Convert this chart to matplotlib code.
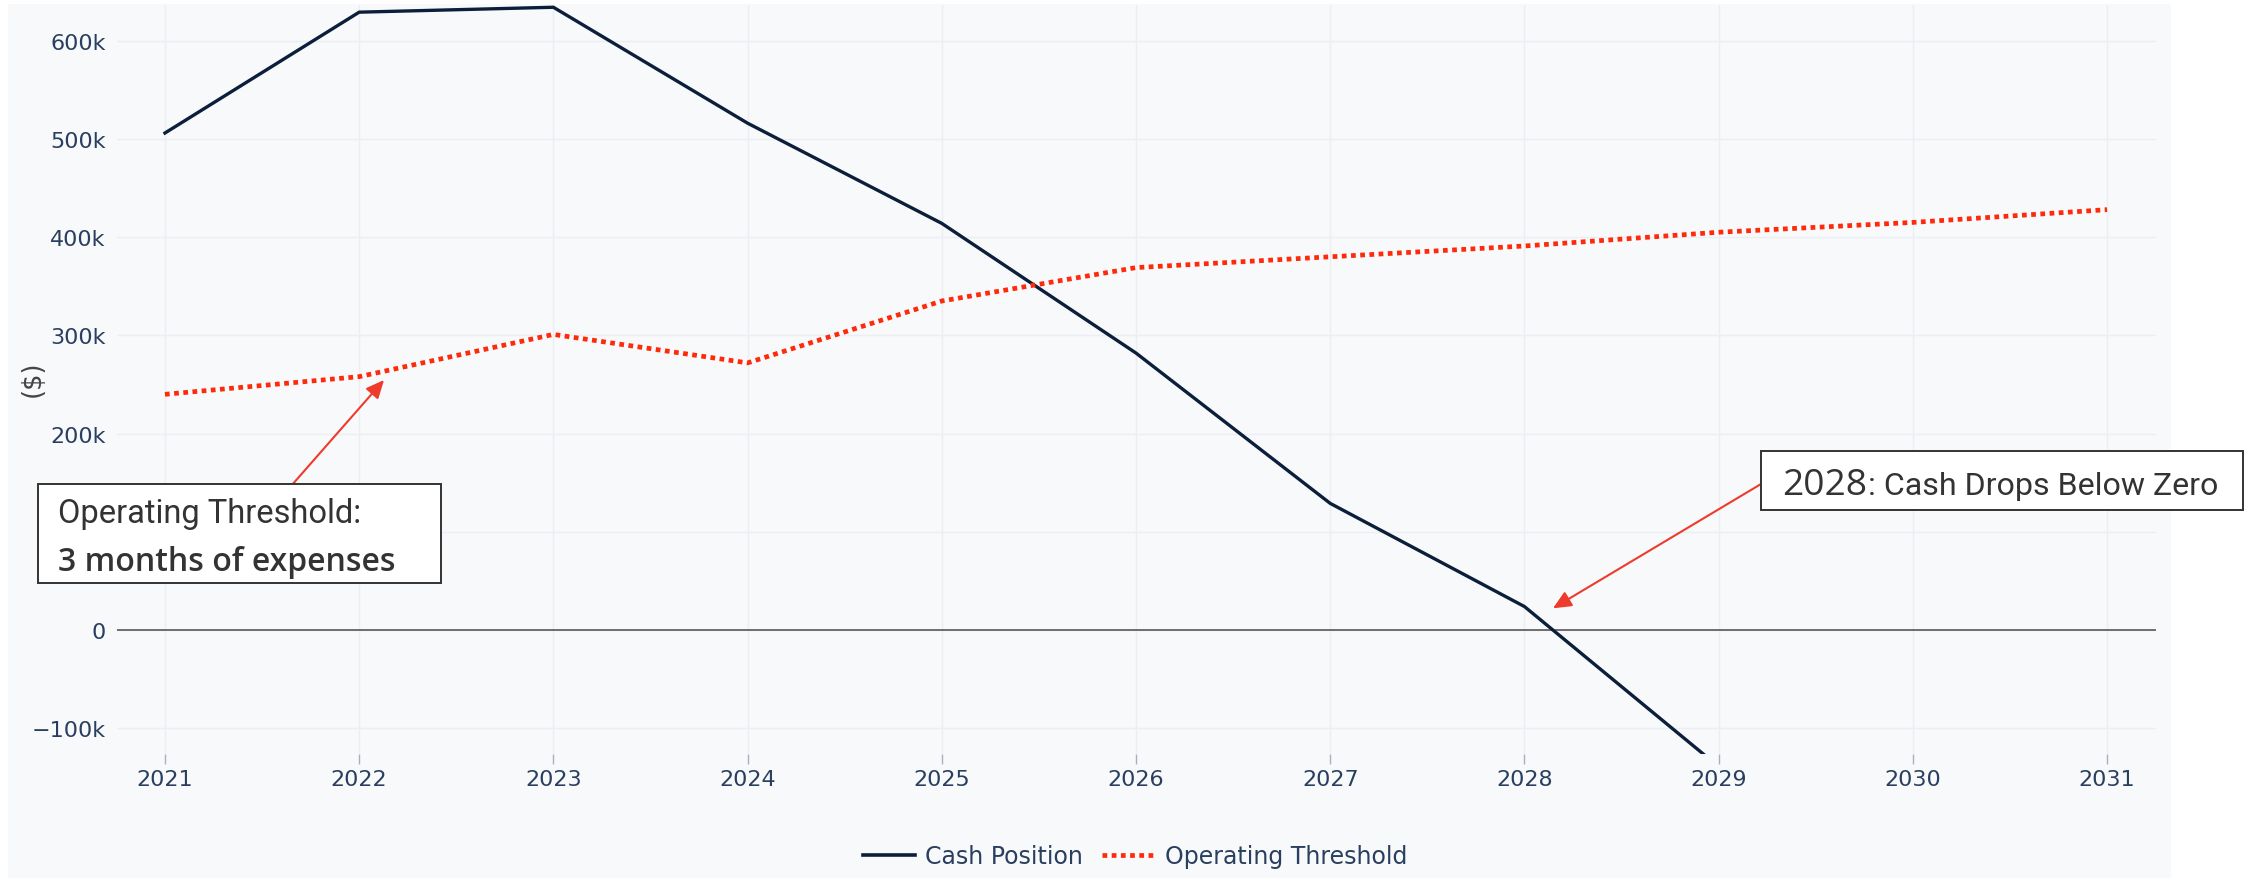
"""
Cash position vs operating threshold, 2021-2031, with two callout boxes.

Output: out.png (2251 x 879 px)
"""

import matplotlib

matplotlib.use("Agg")
import matplotlib.pyplot as plt
from matplotlib.lines import Line2D
from matplotlib.patches import Rectangle
from matplotlib.ticker import FuncFormatter

W, H = 2251, 879

years = [2021, 2022, 2023, 2024, 2025, 2026, 2027, 2028, 2029, 2030, 2031]
cash_years = [2021, 2022, 2023, 2024, 2025, 2026, 2027, 2028, 2029]
cash = [506_000, 629_000, 634_000, 516_000, 414_000, 282_000, 129_000, 24_000, -139_000]
threshold = [240_000, 258_000, 301_000, 272_000, 335_000, 369_000, 380_000, 391_000, 405_000, 415_000, 428_000]
y_ticks = [-100_000, 0, 100_000, 200_000, 300_000, 400_000, 500_000, 600_000]

# arrow tips of the two callouts (data coords)
TIP_THRESHOLD = (2022.128, 254_600)
TIP_ZERO = (2028.147, 22_200)

BG = "#f8f9fb"
NAVY = "#0b1f3a"
RED = "#ff2a0a"
ARROW_RED = "#ee3b2c"
TICK_TXT = "#2a3f5f"
BOX_TXT = "#333333"
COND_FONT = ["Roboto", "DejaVu Sans"]
WIDE_FONT = ["Open Sans", "DejaVu Sans"]
DOTS = (0, (1.0, 0.95))


def px(x, y):
    """figure pixel (from top-left) -> figure fraction"""
    return x / W, 1 - y / H


def fit_text(fig, renderer, x, base, s, width, **kw):
    fx, fy = px(x, base)
    t = fig.text(fx, fy, s, ha="left", va="baseline", fontsize=20, zorder=7, **kw)
    w = t.get_window_extent(renderer).width
    t.set_fontsize(20 * width / w)
    return t


def main() -> None:
    fig = plt.figure(figsize=(W / 100, H / 100), dpi=100)
    fig.patch.set_facecolor("white")
    fig.add_artist(
        Rectangle((8 / W, 0), (2171 - 8) / W, (H - 5) / H, transform=fig.transFigure,
                  facecolor=BG, edgecolor="none", zorder=-10)
    )

    ax = fig.add_axes([117 / W, 1 - 755 / H, (2156 - 117) / W, (755 - 6) / H])
    ax.set_facecolor(BG)
    for s in ax.spines.values():
        s.set_visible(False)

    ax.set_xlim(2020.753, 2031.252)
    ax.set_ylim(-126_100, 636_300)
    ax.set_xticks(years)
    ax.set_yticks(y_ticks)
    ax.yaxis.set_major_formatter(
        FuncFormatter(lambda v, _: "0" if v == 0 else f"{v / 1000:.0f}k".replace("-", "\u2212"))
    )
    ax.grid(True, color="#eceef2", lw=1.0, zorder=0)
    ax.set_axisbelow(True)
    ax.tick_params(axis="x", length=7.5, width=1.0, color="#a9b0bd", pad=3,
                   labelsize=16, labelcolor=TICK_TXT)
    ax.tick_params(axis="y", length=0, pad=8, labelsize=16, labelcolor=TICK_TXT)

    ax.axhline(0, color="#4a4a4a", lw=1.1, zorder=1.5)
    ax.plot(cash_years, cash, color=NAVY, lw=2.4, zorder=3, solid_joinstyle="miter")
    ax.plot(years, threshold, color=RED, lw=3.4, linestyle=DOTS, dash_capstyle="butt", zorder=3)

    fx, fy = px(33, 379)
    fig.text(fx, fy, "($)", rotation=90, fontsize=18.5, color="#444444", ha="center", va="center")

    handles = [
        Line2D([], [], color=NAVY, lw=2.6),
        Line2D([], [], color=RED, lw=3.4, linestyle=DOTS, dash_capstyle="butt"),
    ]
    leg = fig.legend(handles, ["Cash Position", "Operating Threshold"], loc="center",
                     bbox_to_anchor=px(1135, 857), ncol=2, frameon=False, fontsize=17,
                     handlelength=2.2, handletextpad=0.45, columnspacing=0.8)
    for t in leg.get_texts():
        t.set_color(TICK_TXT)

    # callout arrows (tails sit on the box edges)
    arrow = dict(arrowstyle="-|>,head_length=0.55,head_width=0.25", color=ARROW_RED,
                 lw=1.5, mutation_scale=20, shrinkA=0, shrinkB=0)
    ax.annotate("", xy=TIP_THRESHOLD, xytext=(292.8, H - 485), textcoords="figure pixels",
                arrowprops=arrow, annotation_clip=False)
    ax.annotate("", xy=TIP_ZERO, xytext=(1761, H - 485), textcoords="figure pixels",
                arrowprops=arrow, annotation_clip=False)

    for x0, y0, x1, y1 in [(38, 485, 441, 584), (1761, 452, 2243, 511)]:
        fig.add_artist(
            Rectangle(px(x0, y1), (x1 - x0) / W, (y1 - y0) / H, transform=fig.transFigure,
                      facecolor="white", edgecolor="#333333", lw=1.4, zorder=6)
        )

    renderer = fig.canvas.get_renderer()
    fit_text(fig, renderer, 57.7, 523, "Operating Threshold:", 302, family=COND_FONT, color=BOX_TXT)
    fit_text(fig, renderer, 57.7, 571, "3 months of expenses", 336, family=WIDE_FONT,
             weight="semibold", color=BOX_TXT)
    fit_text(fig, renderer, 1781.7, 495, "2028", 85, family=WIDE_FONT, color=BOX_TXT)
    fit_text(fig, renderer, 1868, 495, ": Cash Drops Below Zero", 350, family=COND_FONT, color=BOX_TXT)

    fig.savefig("out.png", dpi=100, facecolor=fig.get_facecolor())
    plt.close(fig)


if __name__ == "__main__":
    main()
